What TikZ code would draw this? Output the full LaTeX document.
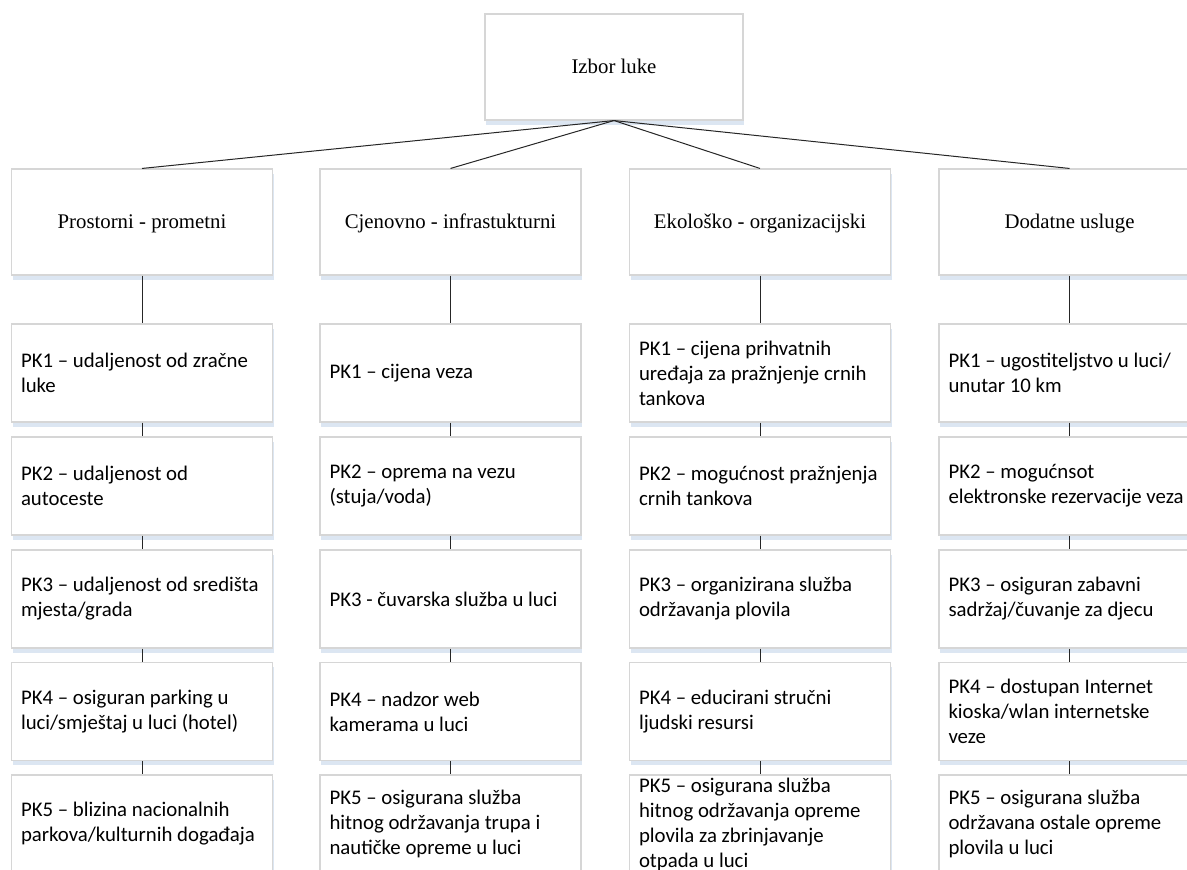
\documentclass[tikz,border=0pt]{standalone}
\usepackage{fontspec}
\usetikzlibrary{shadows}
\newfontfamily\catfont{Liberation Serif}
\newfontfamily\pkfont{Carlito}
\definecolor{boxgray}{HTML}{D6D6D6}
\definecolor{shadowblue}{HTML}{DCE6F2}
\tikzset{
  basebox/.style={draw=boxgray, line width=1.1pt, fill=white,
    drop shadow={shadow xshift=1pt, shadow yshift=-4.5pt, fill=shadowblue, opacity=1}},
  catbox/.style={basebox, minimum width=261pt, minimum height=106pt,
    text height=16pt, text depth=4pt,
    font=\catfont\fontsize{20.8}{25}\selectfont},
  pkbox/.style={basebox, text width=242pt, inner xsep=9.5pt, inner ysep=0pt,
    minimum height=98pt, align=flush left, font=\pkfont\fontsize{20.8}{25}\selectfont},
  link/.style={draw=black!85, line width=1pt}
}
\begin{document}
\begin{tikzpicture}[x=1pt, y=-1pt]
            \useasboundingbox (0,0) rectangle (1187,870);
            % ---------- top ----------
            \node[catbox, minimum width=258pt] (izbor) at (614,67) {Izbor luke};
            % ---------- groups ----------
            \node[catbox] (prostor) at (142,222) {Prostorni - prometni};
            \node[catbox] (cijena) at (450.5,222) {Cjenovno - infrastukturni};
            \node[catbox] (eko) at (760,222) {Ekološko - organizacijski};
            \node[catbox] (dodatne) at (1069.5,222) {Dodatne usluge};
            % ---------- Prostorni - prometni ----------
            \node[pkbox] (pp1) at (142,373) {PK1 – udaljenost od zračne\\luke};
            \node[pkbox] (pp2) at (142,486) {PK2 – udaljenost od\\autoceste};
            \node[pkbox] (pp3) at (142,599) {PK3 – udaljenost od središta\\mjesta/grada};
            \node[pkbox] (pp4) at (142,711.5) {PK4 – osiguran parking u\\luci/smještaj u luci (hotel)};
            \node[pkbox] (pp5) at (142,824) {PK5 – blizina nacionalnih\\parkova/kulturnih događaja};
            % ---------- Cjenovno - infrastukturni ----------
            \node[pkbox] (ci1) at (450.5,373) {PK1 – cijena veza};
            \node[pkbox] (ci2) at (450.5,486) {PK2 – oprema na vezu\\(stuja/voda)};
            \node[pkbox] (ci3) at (450.5,599) {PK3 - čuvarska služba u luci};
            \node[pkbox] (ci4) at (450.5,711.5) {PK4 – nadzor web\\kamerama u luci};
            \node[pkbox] (ci5) at (450.5,824) {PK5 – osigurana služba\\hitnog održavanja trupa i\\nautičke opreme u luci};
            % ---------- Ekološko - organizacijski ----------
            \node[pkbox] (ek1) at (760,373) {PK1 – cijena prihvatnih\\uređaja za pražnjenje crnih\\tankova};
            \node[pkbox] (ek2) at (760,486) {PK2 – mogućnost pražnjenja\\crnih tankova};
            \node[pkbox] (ek3) at (760,599) {PK3 – organizirana služba\\održavanja plovila};
            \node[pkbox] (ek4) at (760,711.5) {PK4 – educirani stručni\\ljudski resursi};
            \node[pkbox] (ek5) at (760,824) {PK5 – osigurana služba\\hitnog održavanja opreme\\plovila za zbrinjavanje\\otpada u luci};
            % ---------- Dodatne usluge ----------
            \node[pkbox] (do1) at (1069.5,373) {PK1 – ugostiteljstvo u luci/\\unutar 10 km};
            \node[pkbox] (do2) at (1069.5,486) {PK2 – mogućnsot\\elektronske rezervacije veza};
            \node[pkbox] (do3) at (1069.5,599) {PK3 – osiguran zabavni\\sadržaj/čuvanje za djecu};
            \node[pkbox] (do4) at (1069.5,711.5) {PK4 – dostupan Internet\\kioska/wlan internetske\\veze};
            \node[pkbox] (do5) at (1069.5,824) {PK5 – osigurana služba\\održavana ostale opreme\\plovila u luci};
            % ---------- links ----------
            \draw[link] (izbor.south) -- (prostor.north);
            \draw[link] (izbor.south) -- (cijena.north);
            \draw[link] (izbor.south) -- (eko.north);
            \draw[link] (izbor.south) -- (dodatne.north);
            \draw[link] (prostor.south) -- (pp1.north);
            \draw[link] (pp1.south) -- (pp2.north);
            \draw[link] (pp2.south) -- (pp3.north);
            \draw[link] (pp3.south) -- (pp4.north);
            \draw[link] (pp4.south) -- (pp5.north);
            \draw[link] (cijena.south) -- (ci1.north);
            \draw[link] (ci1.south) -- (ci2.north);
            \draw[link] (ci2.south) -- (ci3.north);
            \draw[link] (ci3.south) -- (ci4.north);
            \draw[link] (ci4.south) -- (ci5.north);
            \draw[link] (eko.south) -- (ek1.north);
            \draw[link] (ek1.south) -- (ek2.north);
            \draw[link] (ek2.south) -- (ek3.north);
            \draw[link] (ek3.south) -- (ek4.north);
            \draw[link] (ek4.south) -- (ek5.north);
            \draw[link] (dodatne.south) -- (do1.north);
            \draw[link] (do1.south) -- (do2.north);
            \draw[link] (do2.south) -- (do3.north);
            \draw[link] (do3.south) -- (do4.north);
            \draw[link] (do4.south) -- (do5.north);
\end{tikzpicture}
\end{document}
